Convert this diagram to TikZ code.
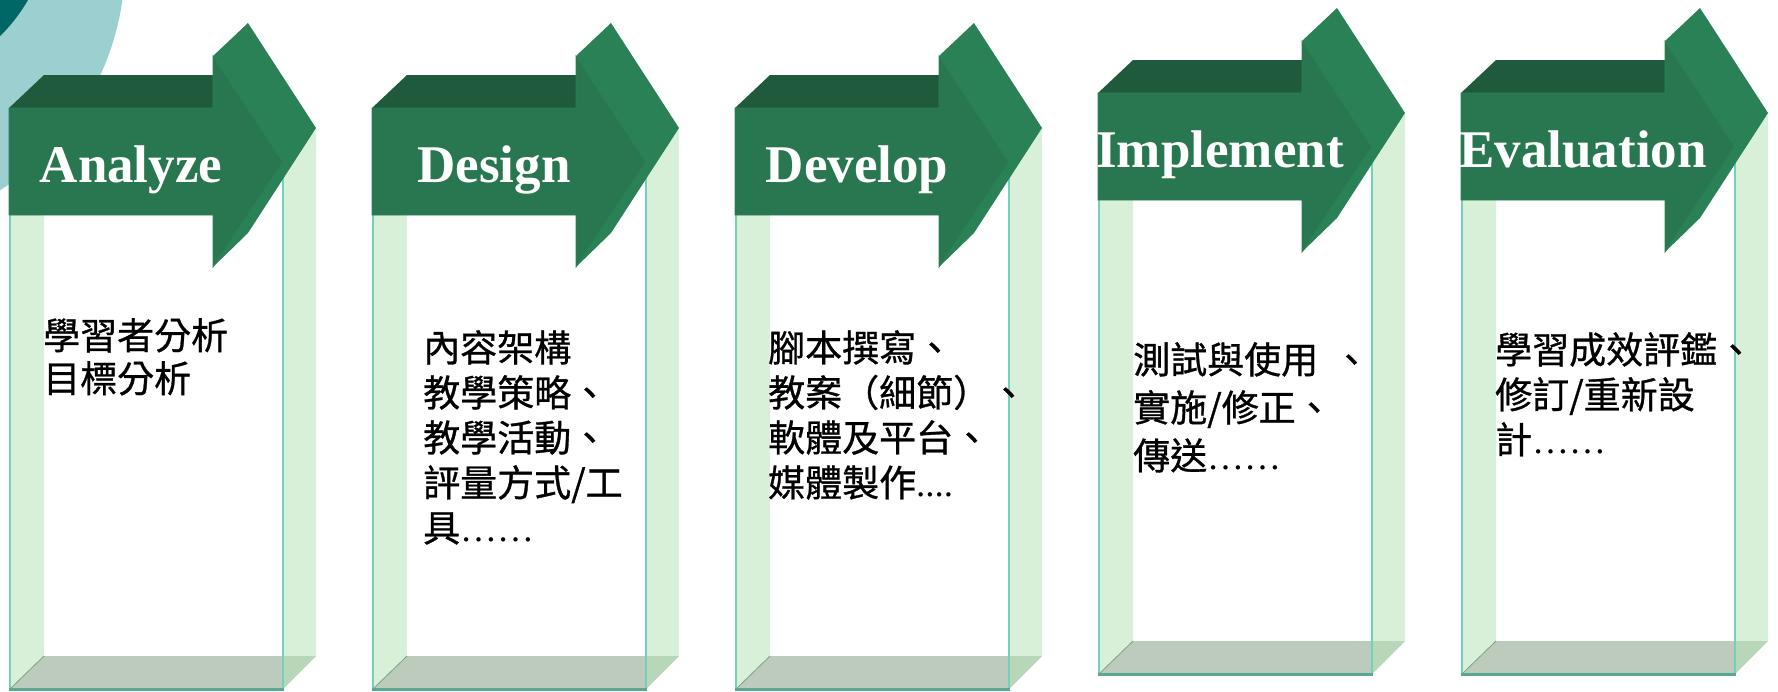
\documentclass[tikz,border=0pt]{standalone}
\usepackage{fontspec}
\setmainfont{Liberation Serif}
\newfontfamily\cjk[FakeBold=0.8]{Noto Sans CJK TC}

\definecolor{arrowfront}{HTML}{287750}
\definecolor{arrowtop}{HTML}{1F5A3D}
\definecolor{arrowside}{HTML}{2A8156}
\definecolor{arrowrim}{HTML}{2C8258}
\definecolor{glassgreen}{RGB}{181,227,181}
\definecolor{glassfloor}{HTML}{BCCBBC}
\definecolor{glassrim}{HTML}{74D0BA}
\definecolor{floorrim}{HTML}{5AA892}
\definecolor{floorseam}{HTML}{7F9E8A}
\definecolor{ringlight}{HTML}{9BCFD0}
\definecolor{ringdark}{HTML}{006666}

\tikzset{
  frontface/.style={fill=arrowfront, draw=arrowrim, line width=0.8pt},
  topface/.style={fill=arrowtop},
  sideface/.style={fill=arrowside},
  glassside/.style={fill=glassgreen, fill opacity=0.53},
  glassfloor/.style={fill=glassfloor},
  glassedge/.style={draw=glassrim, line width=2.6pt},
  stagetitle/.style={anchor=base, inner sep=0pt, text=white,
    font=\fontsize{53}{60}\selectfont\bfseries},
  stagetext/.style={anchor=north west, align=left, inner sep=0pt,
    font=\cjk\fontsize{37}{#1}\selectfont},
}

\begin{document}
\begin{tikzpicture}[x=1pt, y=-1pt]
  \useasboundingbox (0,0) rectangle (1778,691);

  % corner rings
  \begin{scope}
    \clip (0,0) rectangle (1778,691);
    \fill[ringlight] (-146,-38) circle (271);
    \fill[ringdark] (-117,-83) circle (167);
  \end{scope}

  % five glass boxes with their arrows
  \foreach \i/\dy/\name/\word in {0/0/an/Analyze, 1/0/de/Design, 2/0/dv/Develop,
                                  3/-15/im/Implement, 4/-15/ev/Evaluation} {
    \begin{scope}[shift={(363*\i,\dy)}]
      \fill[glassfloor] (10,689) -- (283,689) -- (316,656) -- (44,656) -- cycle;
      \fill[glassside] (10,162) -- (44,129) -- (44,656) -- (10,689) -- cycle;
      \fill[glassside] (283,162) -- (316,129) -- (316,656) -- (283,689) -- cycle;
      \draw[floorseam, line width=0.8pt] (10,689) -- (44,656);
      \draw[glassedge] (10,162) -- (10,689);
      \draw[glassedge] (283,162) -- (283,689);
      \draw[floorrim, line width=3pt] (9,689) -- (284,689);

      \fill[topface] (9,108) -- (44,75) -- (248,75) -- (213,108) -- cycle;
      \fill[sideface] (213,56) -- (248,23) -- (316,128) -- (248,233) -- (213,267) -- cycle;
      \draw[frontface] (9,108) -- (213,108) -- (213,56) -- (283,162)
        -- (213,267) -- (213,215) -- (9,215) -- cycle;

      \node[stagetitle] (title-\name) at (131,182) {\word};
    \end{scope}
  }

  % texts inside the boxes
  \node[stagetext=43] (text-an) at (43,318) {學習者分析\\目標分析};
  \node[stagetext=45] (text-de) at (423,330)
    {內容架構\\教學策略、\\教學活動、\\評量方式/工\\具{\rmfamily ……}};
  \node[stagetext=45] (text-dv) at (768,330)
    {腳本撰寫、\\教案（細節）、\\軟體及平台、\\媒體製作{\rmfamily ....}};
  \node[stagetext=48] (text-im) at (1133,342)
    {測試與使用\hspace{0.4em}、\\實施/修正、\\傳送{\rmfamily ……}};
  \node[stagetext=45] (text-ev) at (1495,332)
    {學習成效評鑑、\\修訂/重新設\\計{\rmfamily ……}};
\end{tikzpicture}
\end{document}
